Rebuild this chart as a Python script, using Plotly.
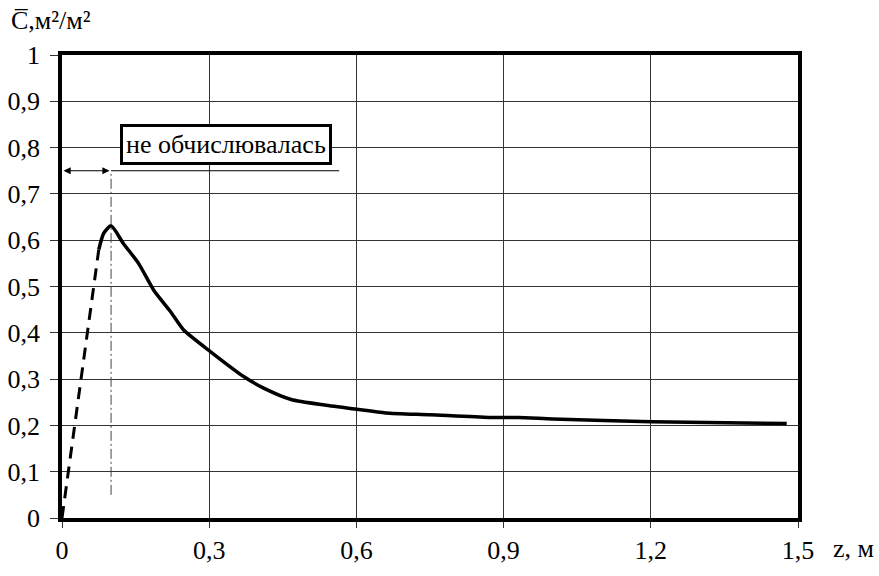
import plotly.graph_objects as go

# Data
z_dash = [0.0, 0.075]
c_dash = [0.0, 0.58]
z_solid = [0.075, 0.085, 0.1, 0.125, 0.156, 0.187, 0.221, 0.248, 0.303, 0.371, 0.412,
           0.467, 0.535, 0.6, 0.66, 0.75, 0.87, 0.93, 1.0, 1.2, 1.477]
c_solid = [0.58, 0.615, 0.631, 0.593, 0.550, 0.492, 0.446, 0.406, 0.359, 0.305, 0.280,
           0.256, 0.244, 0.235, 0.227, 0.223, 0.217, 0.217, 0.214, 0.208, 0.204]
x_ticks = [0, 0.3, 0.6, 0.9, 1.2, 1.5]
x_labels = ["0", "0,3", "0,6", "0,9", "1,2", "1,5"]
y_ticks = [0, 0.1, 0.2, 0.3, 0.4, 0.5, 0.6, 0.7, 0.8, 0.9, 1.0]
y_labels = ["0", "0,1", "0,2", "0,3", "0,4", "0,5", "0,6", "0,7", "0,8", "0,9", "1"]
z_boundary = 0.1
y_arrow = 0.75
note_text = "не обчислювалась"

FONT = "Liberation Serif, 'Times New Roman', serif"
FS = 26
ML, MR, MT, MB = 62, 81, 55, 58
PW = 879 - ML - MR
PH = 576 - MT - MB

fig = go.Figure()
fig.add_trace(go.Scatter(x=z_dash, y=c_dash, mode="lines",
                         line=dict(color="black", width=3, dash="12px,8px"),
                         showlegend=False, hoverinfo="skip"))
fig.add_trace(go.Scatter(x=z_solid, y=c_solid, mode="lines",
                         line=dict(color="black", width=3.5, shape="spline", smoothing=0.6),
                         showlegend=False))
# vertical dash-dot boundary line
fig.add_trace(go.Scatter(x=[z_boundary, z_boundary], y=[0.05, y_arrow], mode="lines",
                         line=dict(color="#444", width=1, dash="10px,3px,2px,3px"),
                         showlegend=False, hoverinfo="skip"))
# horizontal thin line after arrow
fig.add_trace(go.Scatter(x=[z_boundary, 0.565], y=[y_arrow, y_arrow], mode="lines",
                         line=dict(color="black", width=1),
                         showlegend=False, hoverinfo="skip"))

# double arrow
fig.add_annotation(x=0.003, y=y_arrow, ax=z_boundary, ay=y_arrow, xref="x", yref="y",
                   axref="x", ayref="y", showarrow=True, arrowhead=2, arrowside="end+start",
                   arrowsize=1.2, arrowwidth=1.2, arrowcolor="black", text="")
# boxed note
fig.add_annotation(x=0.334, y=0.806, xref="x", yref="y", text=note_text, showarrow=False,
                   font=dict(family=FONT, size=FS, color="black"),
                   bordercolor="black", borderwidth=3, borderpad=3, bgcolor="white")
# axis titles
fig.add_annotation(x=(876 - ML) / PW, y=-(548 - (576 - MB)) / PH, xref="paper", yref="paper",
                   text="z, м", showarrow=False, xanchor="right", yanchor="middle",
                   font=dict(family=FONT, size=FS, color="black"))
fig.add_annotation(x=(9 - ML) / PW, y=1 + (MT - 20) / PH, xref="paper", yref="paper",
                   text="C\u0305,м²/м²", showarrow=False, xanchor="left", yanchor="middle",
                   font=dict(family=FONT, size=FS, color="black"))

fig.update_layout(
    width=879, height=576,
    margin=dict(l=ML, r=MR, t=MT, b=MB, autoexpand=False),
    paper_bgcolor="white", plot_bgcolor="white",
    font=dict(family=FONT, size=FS, color="black"),
)
fig.update_xaxes(range=[0, 1.5], tickvals=x_ticks, ticktext=x_labels, automargin=False,
                 showgrid=True, gridcolor="#333", gridwidth=1, zeroline=False,
                 showline=True, linecolor="black", linewidth=3.5, mirror=True,
                 ticks="outside", ticklen=6, tickcolor="#333", tickwidth=1,
                 ticklabelstandoff=0, tickfont=dict(family=FONT, size=FS))
fig.update_yaxes(range=[0, 1], tickvals=y_ticks, ticktext=y_labels, automargin=False,
                 showgrid=True, gridcolor="#333", gridwidth=1, zeroline=False,
                 showline=True, linecolor="black", linewidth=3.5, mirror=True,
                 ticks="outside", ticklen=8, tickcolor="#333", tickwidth=1,
                 ticklabelstandoff=5, tickfont=dict(family=FONT, size=FS))

fig.write_html("out.html")
